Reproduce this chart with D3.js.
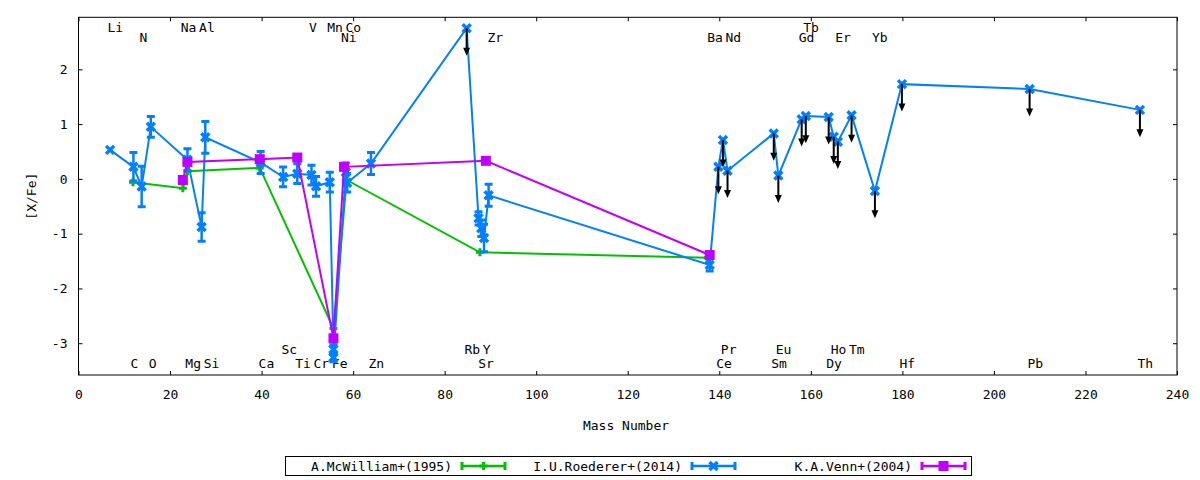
<!DOCTYPE html>
<html>
<head>
<meta charset="utf-8">
<script src="https://cdn.jsdelivr.net/npm/d3@7"></script>
<style>
  body { margin: 0; background: #fff; }
  svg text { font-family: "DejaVu Sans Mono", monospace; font-size: 13px; fill: #000; }
</style>
</head>
<body>
<div id="chart"></div>
<script>
// A.McWilliam+(1995)
const mcwMass = [11.9, 22.8, 23.8, 39.6, 55.7, 58.6, 87.7, 137.5];
const mcwVal  = [-0.06, -0.17, 0.14, 0.20, -2.73, -0.02, -1.34, -1.44];

// I.U.Roederer+(2014) ; err 0 = no bar, upper = upper limit (arrow)
const roeMass = [6.9, 12.0, 13.8, 15.8, 23.8, 26.9, 27.7, 39.8, 44.7, 47.8, 50.9, 51.9, 54.9,
                 55.7, 55.7, 58.4, 58.7, 63.9, 84.8, 87.4, 88.0, 88.6, 89.6, 137.9, 139.8,
                 140.8, 141.8, 151.9, 152.9, 158.0, 158.9, 163.9, 165.0, 165.9, 168.9, 174.0,
                 179.9, 207.8, 231.9];
const roeVal  = [0.53, 0.22, -0.14, 0.95, 0.35, -0.88, 0.76, 0.30, 0.035, 0.095, 0.07, -0.135, -0.06,
                 -3.11, -3.26, 0.12, -0.07, 0.28, 2.75, -0.72, -0.90, -1.08, -0.30, -1.57, 0.22,
                 0.71, 0.15, 0.83, 0.06, 1.09, 1.15, 1.13, 0.77, 0.68, 1.16, -0.22,
                 1.73, 1.64, 1.26];
const roeErr  = [0, 0.26, 0.37, 0.19, 0.20, 0.26, 0.29, 0.20, 0.18, 0.18, 0.18, 0.18, 0.18,
                 0.08, 0.08, 0.17, 0.17, 0.20, 0, 0.12, 0.15, 0.25, 0.20, 0.11, 0,
                 0, 0, 0, 0, 0, 0, 0, 0, 0, 0, 0,
                 0, 0, 0];
const roeUpper = [0, 0, 0, 0, 0, 0, 0, 0, 0, 0, 0, 0, 0,
                  0, 0, 0, 0, 0, 1, 0, 0, 0, 0, 0, 1,
                  1, 1, 1, 1, 1, 1, 1, 1, 1, 1, 1,
                  1, 1, 1];
const limitLength = 0.5;

// K.A.Venn+(2004)
const vennMass = [22.8, 23.8, 39.6, 47.8, 55.7, 58.0, 89.0, 137.9];
const vennVal  = [-0.02, 0.31, 0.36, 0.39, -2.91, 0.22, 0.33, -1.39];

// element labels: name, mass number
const topRow1 = [["Li", 7], ["Na", 23], ["Al", 27], ["V", 51], ["Mn", 55], ["Co", 59], ["Tb", 159]];
const topRow2 = [["N", 14], ["Ni", 58], ["Zr", 90], ["Ba", 138], ["Nd", 142], ["Gd", 158], ["Er", 166], ["Yb", 174]];
const botRow1 = [["Sc", 45], ["Rb", 85], ["Y", 89], ["Pr", 141], ["Eu", 153], ["Ho", 165], ["Tm", 169]];
const botRow2 = [["C", 12], ["O", 16], ["Mg", 24], ["Si", 28], ["Ca", 40], ["Ti", 48], ["Cr", 52], ["Fe", 56],
                 ["Zn", 64], ["Sr", 88], ["Ce", 140], ["Sm", 152], ["Dy", 164], ["Hf", 180], ["Pb", 208], ["Th", 232]];

const xTicks = d3.range(0, 241, 20);
const yTicks = [-3, -2, -1, 0, 1, 2];
const seriesNames = ["A.McWilliam+(1995)", "I.U.Roederer+(2014)", "K.A.Venn+(2004)"];

const green = "#00c000", blue = "#0080ff", magenta = "#c000ff";

const W = 1200, H = 480;
const margin = { top: 17.3, right: 23, bottom: 105, left: 78.5 };
const width = W - margin.left - margin.right;
const height = H - margin.top - margin.bottom;

const svg = d3.select("#chart").append("svg")
    .attr("width", W).attr("height", H);
const g = svg.append("g").attr("transform", `translate(${margin.left},${margin.top})`);

const x = d3.scaleLinear().domain([0, 240]).range([0, width]);
const y = d3.scaleLinear().domain([-3.58, 2.95]).range([height, 0]);

// axes with inward ticks, mirrored
const fmt = d => String(d);
g.append("g").attr("transform", `translate(0,${height})`)
    .call(d3.axisBottom(x).tickValues(xTicks).tickFormat(fmt).tickSizeInner(-4).tickSizeOuter(0).tickPadding(15));
g.append("g")
    .call(d3.axisTop(x).tickValues(xTicks).tickFormat("").tickSizeInner(-4).tickSizeOuter(0));
g.append("g")
    .call(d3.axisLeft(y).tickValues(yTicks).tickFormat(fmt).tickSizeInner(-4).tickSizeOuter(0).tickPadding(11));
g.append("g").attr("transform", `translate(${width},0)`)
    .call(d3.axisRight(y).tickValues(yTicks).tickFormat("").tickSizeInner(-4).tickSizeOuter(0));
g.selectAll(".domain").remove();
g.selectAll(".tick line").attr("stroke", "#000");
g.selectAll(".tick text").attr("font-size", 13).attr("font-family", "DejaVu Sans Mono");

g.append("rect").attr("width", width).attr("height", height)
    .attr("fill", "none").attr("stroke", "#000").attr("stroke-width", 1);

// axis titles
svg.append("text").attr("x", 626).attr("y", 425).attr("dy", "0.36em")
    .attr("text-anchor", "middle").text("Mass Number");
svg.append("text").attr("transform", `translate(31,${margin.top + height / 2}) rotate(-90)`)
    .attr("dy", "0.36em").attr("text-anchor", "middle").text("[X/Fe]");

// element labels
function drawLabels(rows, cy) {
    g.append("g").selectAll("text").data(rows).enter().append("text")
        .attr("x", d => x(d[1]) - 3)
        .attr("y", cy - margin.top)
        .attr("dy", "0.36em")
        .text(d => d[0]);
}
drawLabels(topRow1, 27.7);
drawLabels(topRow2, 37.7);
drawLabels(botRow1, 349.3);
drawLabels(botRow2, 363.3);

// marker helpers
function plus(sel, cx, cy, color) {
    sel.append("path").attr("d", `M${cx - 4},${cy}H${cx + 4}M${cx},${cy - 4}V${cy + 4}`)
        .attr("stroke", color).attr("stroke-width", 3).attr("fill", "none");
}
function cross(sel, cx, cy, color) {
    sel.append("path").attr("d", `M${cx - 4},${cy - 4}L${cx + 4},${cy + 4}M${cx - 4},${cy + 4}L${cx + 4},${cy - 4}`)
        .attr("stroke", color).attr("stroke-width", 3.5).attr("fill", "none");
}
function square(sel, cx, cy, color) {
    sel.append("rect").attr("x", cx - 5).attr("y", cy - 5).attr("width", 10).attr("height", 10)
        .attr("fill", color);
}
function errbar(sel, cx, cy0, cy1, color) {
    sel.append("path").attr("d", `M${cx},${cy0}V${cy1}`)
        .attr("stroke", color).attr("stroke-width", 2.5);
    sel.append("path").attr("d", `M${cx - 4},${cy0}H${cx + 4}M${cx - 4},${cy1}H${cx + 4}`)
        .attr("stroke", color).attr("stroke-width", 3);
}

const line = d3.line().x(d => x(d[0])).y(d => y(d[1]));

// McWilliam
const mcw = mcwMass.map((m, i) => [m, mcwVal[i]]);
const gM = g.append("g");
gM.append("path").datum(mcw).attr("d", line)
    .attr("fill", "none").attr("stroke", green).attr("stroke-width", 2);
mcw.forEach(d => plus(gM, x(d[0]), y(d[1]), green));

// Roederer
const roe = roeMass.map((m, i) => ({ m, v: roeVal[i], e: roeErr[i], up: roeUpper[i] }));
const gR = g.append("g");
gR.append("path").datum(roe.map(d => [d.m, d.v])).attr("d", line)
    .attr("fill", "none").attr("stroke", blue).attr("stroke-width", 2);
const gA = g.append("g");
roe.filter(d => d.up).forEach(d => {
    const cx = x(d.m), y0 = y(d.v), tip = y(d.v - limitLength);
    gA.append("path").attr("d", `M${cx},${y0}V${tip - 6}`)
        .attr("stroke", "#000").attr("stroke-width", 2);
    gA.append("path").attr("d", `M${cx - 3.5},${tip - 8}L${cx + 3.5},${tip - 8}L${cx},${tip}Z`)
        .attr("fill", "#000");
});
roe.forEach(d => {
    if (d.e > 0) errbar(gR, x(d.m), y(d.v + d.e), y(d.v - d.e), blue);
});
roe.forEach(d => cross(gR, x(d.m), y(d.v), blue));

// Venn
const venn = vennMass.map((m, i) => [m, vennVal[i]]);
const gV = g.append("g");
gV.append("path").datum(venn).attr("d", line)
    .attr("fill", "none").attr("stroke", magenta).attr("stroke-width", 2);
venn.forEach(d => square(gV, x(d[0]), y(d[1]), magenta));

// legend
const leg = svg.append("g");
leg.append("rect").attr("x", 285.5).attr("y", 456.5).attr("width", 686).attr("height", 19)
    .attr("fill", "none").attr("stroke", "#000").attr("stroke-width", 1);
const legColors = [green, blue, magenta];
const legMarks = [plus, cross, square];
seriesNames.forEach((name, i) => {
    const tx = 452 + i * 230;
    const cy = 466;
    leg.append("text").attr("x", tx).attr("y", cy).attr("dy", "0.36em")
        .attr("text-anchor", "end").text(name);
    const x0 = tx + 10, x1 = tx + 53;
    leg.append("path").attr("d", `M${x0},${cy}H${x1}`)
        .attr("stroke", legColors[i]).attr("stroke-width", 2.5);
    leg.append("path").attr("d", `M${x0},${cy - 4}V${cy + 4}M${x1},${cy - 4}V${cy + 4}`)
        .attr("stroke", legColors[i]).attr("stroke-width", 3);
    legMarks[i](leg, (x0 + x1) / 2, cy, legColors[i]);
});
</script>
</body>
</html>
